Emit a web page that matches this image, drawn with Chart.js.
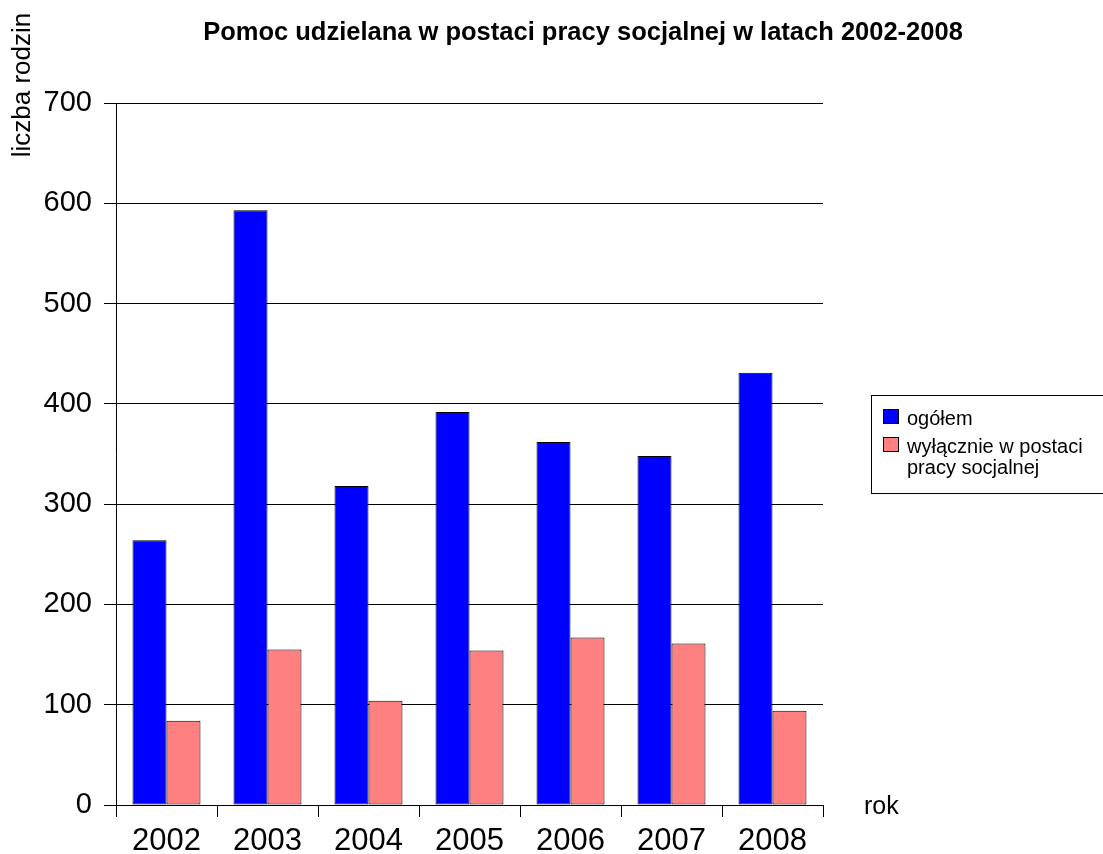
<!DOCTYPE html>
<html lang="pl">
<head>
<meta charset="UTF-8">
<title>Pomoc udzielana w postaci pracy socjalnej</title>
<script src="https://cdn.jsdelivr.net/npm/chart.js"></script>
<style>
    body { margin: 0; background: #fff; }
    canvas { display: block; }
</style>
</head>
<body>
<canvas id="chart" width="1103" height="854"></canvas>
<script>
    // dane
    const years = ['2002', '2003', '2004', '2005', '2006', '2007', '2008'];
    const ogolem = [264, 593, 318, 392, 362, 348, 431];
    const wylacznie = [84, 155, 104, 154, 167, 161, 94];
    const seriesNames = ['ogółem', 'wyłącznie w postaci pracy socjalnej'];
    const chartTitle = 'Pomoc udzielana w postaci pracy socjalnej w latach 2002-2008';
    const yTitle = 'liczba rodzin';
    const xTitle = 'rok';

    const FONT = '"Liberation Sans", Arial, sans-serif';
    Chart.defaults.font.family = FONT;
    Chart.defaults.color = '#000';

    // tytul, opisy osi i legenda rysowane recznie
    const extras = {
        id: 'extras',
        afterDraw(chart) {
            const c = chart.ctx;
            c.save();
            c.fillStyle = '#000';

            c.font = 'bold 25.5px ' + FONT;
            c.textAlign = 'center';
            c.textBaseline = 'middle';
            c.fillText(chartTitle, 583, 33);

            c.save();
            c.translate(23, 85);
            c.rotate(-Math.PI / 2);
            c.font = '26px ' + FONT;
            c.fillText(yTitle, 0, 0);
            c.restore();

            c.font = '25px ' + FONT;
            c.textAlign = 'left';
            c.textBaseline = 'alphabetic';
            c.fillText(xTitle, 864, 814);

            // legenda
            c.strokeStyle = '#000';
            c.lineWidth = 1;
            c.strokeRect(871.5, 395.5, 260, 98);
            c.font = '20px ' + FONT;
            let y = 409;
            chart.data.datasets.forEach(ds => {
                c.fillStyle = ds.backgroundColor;
                c.fillRect(883, y, 16, 15);
                c.strokeRect(883.5, y + 0.5, 15, 14);
                c.fillStyle = '#000';
                const words = ds.label.split(' ');
                let line = '';
                let by = y + 16;
                words.forEach(w => {
                    const test = line ? line + ' ' + w : w;
                    if (line && c.measureText(test).width > 194) {
                        c.fillText(line, 907, by);
                        line = w;
                        by += 21;
                    } else {
                        line = test;
                    }
                });
                c.fillText(line, 907, by);
                y += 28;
            });
            c.restore();
        }
    };

    new Chart(document.getElementById('chart'), {
        type: 'bar',
        data: {
            labels: years,
            datasets: [
                { label: seriesNames[0], data: ogolem, backgroundColor: '#0000ff', borderColor: '#000', borderWidth: 1, borderSkipped: false },
                { label: seriesNames[1], data: wylacznie, backgroundColor: '#ff8080', borderColor: '#000', borderWidth: 1, borderSkipped: false }
            ]
        },
        options: {
            responsive: false,
            animation: false,
            layout: { padding: { top: 103, right: 280, bottom: 0, left: 0 } },
            datasets: { bar: { categoryPercentage: 0.673, barPercentage: 1 } },
            plugins: {
                legend: { display: false },
                tooltip: { enabled: false }
            },
            scales: {
                x: {
                    grid: { drawOnChartArea: false, tickLength: 12, color: '#000', offset: true },
                    border: { color: '#000' },
                    ticks: { font: { size: 31 }, color: '#000', padding: 6, maxRotation: 0 },
                    afterFit(s) { s.height = 49; }
                },
                y: {
                    min: 0,
                    max: 700,
                    ticks: { stepSize: 100, font: { size: 29 }, color: '#000', padding: 12 },
                    grid: { color: '#000', tickLength: 12 },
                    border: { color: '#000' },
                    afterFit(s) { s.width = 116; }
                }
            }
        },
        plugins: [extras]
    });
</script>
</body>
</html>
